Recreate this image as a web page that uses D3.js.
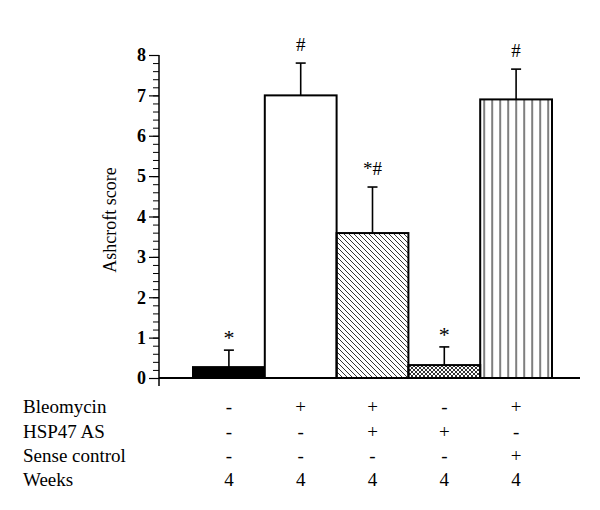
<!DOCTYPE html>
<html>
<head>
<meta charset="utf-8">
<script src="https://cdn.jsdelivr.net/npm/d3@7"></script>
<style>
  body { margin: 0; background: #fff; }
  svg { display: block; }
  svg text { font-family: "Liberation Serif", "DejaVu Serif", "Times New Roman", serif; fill: #000; }
</style>
</head>
<body>
<div id="chart"></div>
<script>
// chart values
var groups = ["G1", "G2", "G3", "G4", "G5"];
var means = [0.27, 7.0, 3.59, 0.32, 6.9];
var errors = [0.42, 0.8, 1.14, 0.45, 0.75];
var marks = ["*", "#", "*#", "*", "#"];
var fills = ["solid", "open", "diag", "cross", "vert"];
var yTicks = [0, 1, 2, 3, 4, 5, 6, 7, 8];
var rowLabels = ["Bleomycin", "HSP47 AS", "Sense control", "Weeks"];
var bleomycin = ["-", "+", "+", "-", "+"];
var hsp47 = ["-", "-", "+", "+", "-"];
var sense = ["-", "-", "-", "-", "+"];
var weeks = ["4", "4", "4", "4", "4"];

var serif = "'Liberation Serif', 'DejaVu Serif', 'Times New Roman', serif";
var width = 600, height = 510;
var svg = d3.select("#chart").append("svg")
	.attr("width", width)
	.attr("height", height);

var x = d3.scaleBand().domain(groups).range([193, 552]).padding(0);
var y = d3.scaleLinear().domain([0, 8]).range([378, 55]);
var axisX = 159;

// patterns
var defs = svg.append("defs");
var pd = defs.append("pattern").attr("id", "diag")
	.attr("patternUnits", "userSpaceOnUse").attr("width", 5).attr("height", 5);
pd.append("path").attr("d", "M0,0 L5,5 M-1,4 L1,6 M4,-1 L6,1")
	.attr("stroke", "#000").attr("stroke-width", 0.8);
var pc = defs.append("pattern").attr("id", "cross")
	.attr("patternUnits", "userSpaceOnUse").attr("width", 4).attr("height", 4);
pc.append("path").attr("d", "M0,0 L4,4 M0,4 L4,0")
	.attr("stroke", "#000").attr("stroke-width", 0.8);
var pv = defs.append("pattern").attr("id", "vert")
	.attr("patternUnits", "userSpaceOnUse").attr("width", 8).attr("height", 8)
	.attr("x", x("G5") + 2);
pv.append("line").attr("x1", 2).attr("x2", 2).attr("y1", 0).attr("y2", 8)
	.attr("stroke", "#000").attr("stroke-width", 1);

var fillFor = function(f){
	if(f == "solid") return "#000";
	if(f == "open") return "#fff";
	return "url(#" + f + ")";
};

// bars
svg.selectAll("rect.bar")
	.data(groups)
	.enter()
	.append("rect")
	.attr("class", "bar")
	.attr("x", function(d){ return x(d); })
	.attr("y", function(d, i){ return y(means[i]); })
	.attr("width", x.bandwidth())
	.attr("height", function(d, i){ return y(0) - y(means[i]); })
	.attr("fill", function(d, i){ return fillFor(fills[i]); })
	.attr("stroke", "#000")
	.attr("stroke-width", 2);

// error bars (upper only) and significance marks
svg.selectAll("g.err")
	.data(groups)
	.enter()
	.append("g")
	.attr("class", "err")
	.each(function(d, i){
		var cx = x(d) + x.bandwidth() / 2;
		var top = y(means[i] + errors[i]);
		var g = d3.select(this);
		g.append("line")
			.attr("x1", cx).attr("x2", cx)
			.attr("y1", y(means[i])).attr("y2", top)
			.attr("stroke", "#000").attr("stroke-width", 1.6);
		g.append("line")
			.attr("x1", cx - 5).attr("x2", cx + 5)
			.attr("y1", top).attr("y2", top)
			.attr("stroke", "#000").attr("stroke-width", 1.6);
		g.append("text")
			.attr("x", cx)
			.attr("y", top - (marks[i] == "*" ? 5 : 12))
			.attr("text-anchor", "middle")
			.attr("font-family", serif)
			.attr("font-size", marks[i] == "*" ? 22 : 19)
			.text(marks[i]);
	});

// y axis, minor ticks
var minor = d3.range(0, 40.5).map(function(k){ return k * 0.2; });
svg.append("g")
	.attr("transform", "translate(" + axisX + ",0)")
	.call(d3.axisLeft(y).tickValues(minor).tickSize(6).tickSizeOuter(0).tickFormat(""))
	.call(function(g){ g.select(".domain").remove(); })
	.selectAll("line").attr("stroke-width", 1);

var yAxis = svg.append("g")
	.attr("transform", "translate(" + axisX + ",0)")
	.call(d3.axisLeft(y).tickValues(yTicks).tickSize(10).tickSizeOuter(0).tickPadding(3));
yAxis.select(".domain").remove();
yAxis.selectAll("line").attr("stroke-width", 1.2);
yAxis.selectAll("text")
	.attr("font-family", serif)
	.attr("font-size", 18)
	.attr("font-weight", "bold")
	.attr("fill", "#000");

svg.append("line")
	.attr("x1", axisX).attr("x2", axisX)
	.attr("y1", y(8)).attr("y2", y(0) + 8)
	.attr("stroke", "#000").attr("stroke-width", 1.5);

// baseline
svg.append("line")
	.attr("x1", axisX).attr("x2", 580)
	.attr("y1", y(0)).attr("y2", y(0))
	.attr("stroke", "#000").attr("stroke-width", 2);

// y label
svg.append("text")
	.attr("transform", "translate(116,220) rotate(-90)")
	.attr("text-anchor", "middle")
	.attr("font-family", serif)
	.attr("font-size", 18)
	.text("Ashcroft score");

// treatment table
var rows = [bleomycin, hsp47, sense, weeks];
var rowY = [413, 438, 462, 486];
rowLabels.forEach(function(lab, r){
	svg.append("text")
		.attr("x", 23)
		.attr("y", rowY[r])
		.attr("font-family", serif)
		.attr("font-size", 19)
		.text(lab);
	svg.selectAll("text.cell" + r)
		.data(groups)
		.enter()
		.append("text")
		.attr("class", "cell" + r)
		.attr("x", function(d){ return x(d) + x.bandwidth() / 2; })
		.attr("y", rowY[r])
		.attr("text-anchor", "middle")
		.attr("font-family", serif)
		.attr("font-size", 19)
		.text(function(d, i){ return rows[r][i]; });
});
</script>
</body>
</html>
